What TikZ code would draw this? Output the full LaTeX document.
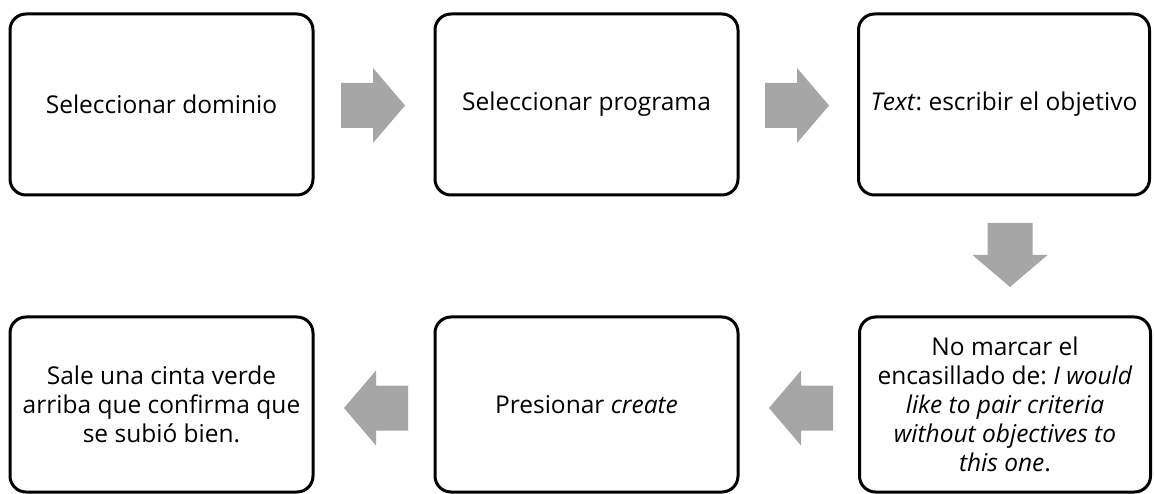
\documentclass[tikz,border=0pt]{standalone}
\usepackage{fontspec}
\setmainfont{Open Sans}
\usepackage{tikz}
\frenchspacing

\definecolor{gris}{HTML}{A6A6A6}

\begin{document}
\begin{tikzpicture}[x=1pt,y=-1pt,
  paso/.style = {draw, line width=3pt, rounded corners=16pt, align=center,
    font=\fontsize{24.5}{29}\selectfont, inner sep=0pt},
  arriba/.style = {paso, minimum width=303pt, minimum height=181pt},
  abajo/.style = {paso, minimum width=303pt, minimum height=175pt},
  flecha/.pic = {\fill[gris] (-32,-22.5) -- (0,-22.5) -- (0,-37.5) -- (32,0)
    -- (0,37.5) -- (0,22.5) -- (-32,22.5) -- cycle;}]
\useasboundingbox (0,0) rectangle (1154,494);
\node[arriba] (1) at (161.5,104.5) {Seleccionar dominio};
\node[arriba] (2) at (586.5,104.5) {Seleccionar programa};
\node[arriba, minimum width=291pt] (3) at (1004,104.5) {\textit{Text}: escribir el objetivo};
\node[abajo, minimum width=291pt] (4) at (1005,404.5) {No marcar el\\encasillado de: \textit{I would}\\\textit{like to pair criteria}\\\textit{without objectives to}\\\textit{this one}.};
\node[abajo] (5) at (586.5,404.5) {Presionar \textit{create}};
\node[abajo] (6) at (161.5,404.5) {Sale una cinta verde\\arriba que confirma que\\se subió bien.};
% flechas
\pic at (373,105.5) {flecha};
\pic at (797,105.5) {flecha};
\pic[rotate=-90] at (1010,255) {flecha};
\pic[rotate=180] at (801,408) {flecha};
\pic[rotate=180] at (376,408) {flecha};
\end{tikzpicture}
\end{document}
